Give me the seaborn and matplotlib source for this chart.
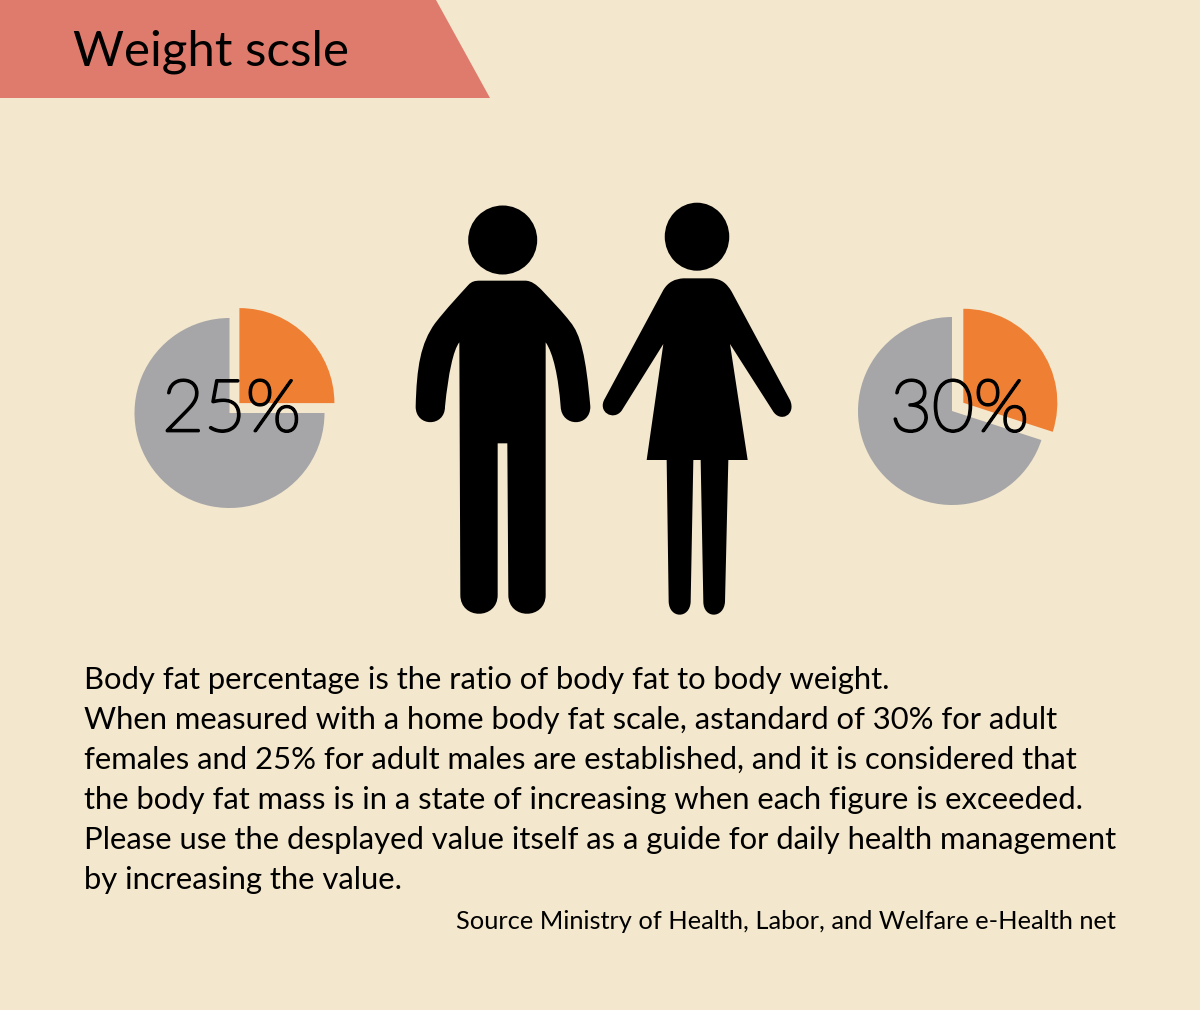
import matplotlib
matplotlib.use("Agg")
import matplotlib.pyplot as plt
import matplotlib.patheffects as pe
from matplotlib.patches import Circle, Ellipse, PathPatch, Polygon
from matplotlib.path import Path
import seaborn as sns

title = "Weight scsle"
body_lines = [
    "Body fat percentage is the ratio of body fat to body weight.",
    "When measured with a home body fat scale, astandard of 30% for adult",
    "females and 25% for adult males are established, and it is considered that",
    "the body fat mass is in a state of increasing when each figure is exceeded.",
    "Please use the desplayed value itself as a guide for daily health management",
    "by increasing the value.",
]
source = "Source Ministry of Health, Labor, and Welfare e-Health net"

male_fat = [25, 75]
female_fat = [30, 70]
male_label = "25%"
female_label = "30%"

BG = "#F3E7CD"
pie_colors = sns.color_palette(["#EE7F33", "#A6A6A8"])

sns.set_theme(style="white", rc={"figure.facecolor": BG, "axes.facecolor": BG})
plt.rcParams["font.family"] = ["Lato", "DejaVu Sans"]

fig = plt.figure(figsize=(12, 10.1), dpi=100)
ax = fig.add_axes([0, 0, 1, 1])
H = 1010


def py(y):
    return H - y


def zoom_xy(p):
    # outlines were traced on a 3x crop starting at (400, 190)
    return (400 + p[0] / 3, py(190 + p[1] / 3))


def outline(start, segs):
    verts = [zoom_xy(start)]
    codes = [Path.MOVETO]
    for s in segs:
        if len(s) == 1:
            verts.append(zoom_xy(s[0]))
            codes.append(Path.LINETO)
        else:
            verts += [zoom_xy(q) for q in s]
            codes += [Path.CURVE4] * 3
    verts.append(verts[0])
    codes.append(Path.CLOSEPOLY)
    return Path(verts, codes)


# pies, explode is in data units here so it is in pixels
ax.pie(male_fat, colors=pie_colors, startangle=90, counterclock=False,
       center=(229.5, py(413)), radius=95, explode=[14, 0], frame=True,
       wedgeprops={"linewidth": 0})
ax.pie(female_fat, colors=pie_colors, startangle=90, counterclock=False,
       center=(952, py(411)), radius=94, explode=[14, 0], frame=True,
       wedgeprops={"linewidth": 0})

ax.set_xlim(0, 1200)
ax.set_ylim(0, H)
ax.set_aspect("auto")
ax.axis("off")

# header banner
ax.add_patch(Polygon([(0, py(0)), (436, py(0)), (490, py(98)), (0, py(98))],
                     closed=True, fc="#DF7B6C", ec="none"))
ax.text(73, py(66), title, fontsize=35.5, color="black", va="baseline")

# figures
ax.add_patch(Circle((502.7, py(240)), 34.5, fc="black", ec="none"))
ax.add_patch(Ellipse((697, py(236.7)), 64.5, 68, fc="black", ec="none"))

man = outline((240, 272), [
    [(375, 272)],
    [(395, 272), (410, 285), (425, 300)],
    [(455, 332), (490, 368), (510, 395)],
    [(542, 432), (558, 500), (571, 650)],
    [(571, 712), (485, 712), (482, 650)],
    [(475, 560), (460, 490), (437, 457)],
    [(437, 1215)],
    [(437, 1290), (325, 1290), (325, 1215)],
    [(322, 760)],
    [(293, 760)],
    [(293, 1215)],
    [(293, 1290), (181, 1290), (181, 1215)],
    [(178, 457)],
    [(160, 480), (145, 550), (135, 650)],
    [(135, 712), (47, 712), (47, 650)],
    [(50, 530), (62, 460), (105, 400)],
    [(140, 355), (175, 318), (205, 285)],
    [(215, 274), (225, 272), (240, 272)],
])
woman = outline((850, 265), [
    [(935, 265)],
    [(965, 267), (980, 280), (995, 305)],
    [(1170, 630)],
    [(1190, 675), (1140, 700), (1118, 662)],
    [(990, 462)],
    [(1043, 810)],
    [(985, 810)],
    [(975, 1235)],
    [(972, 1287), (910, 1287), (910, 1235)],
    [(902, 810)],
    [(880, 810)],
    [(872, 1235)],
    [(870, 1287), (808, 1287), (806, 1235)],
    [(800, 810)],
    [(740, 810)],
    [(790, 462)],
    [(665, 662)],
    [(640, 695), (590, 665), (615, 625)],
    [(790, 300)],
    [(805, 275), (825, 267), (850, 265)],
])
ax.add_patch(PathPatch(man, fc="black", ec="none"))
ax.add_patch(PathPatch(woman, fc="black", ec="none"))

# percent labels, the light face is too thin on its own
for x, label in [(231.5, male_label), (959.5, female_label)]:
    ax.text(x, py(431), label, fontsize=52, family=["Lato", "DejaVu Sans"], weight="light",
            color="black", ha="center", va="baseline", zorder=5,
            path_effects=[pe.withStroke(linewidth=2, foreground="black")])

# text block
for i, line in enumerate(body_lines):
    ax.text(84, py(689 + i * 40), line, fontsize=22.3, color="black", va="baseline")
ax.text(1116, py(929), source, fontsize=18.3, color="black", ha="right", va="baseline")

fig.savefig("out.png", dpi=100, facecolor=BG)
